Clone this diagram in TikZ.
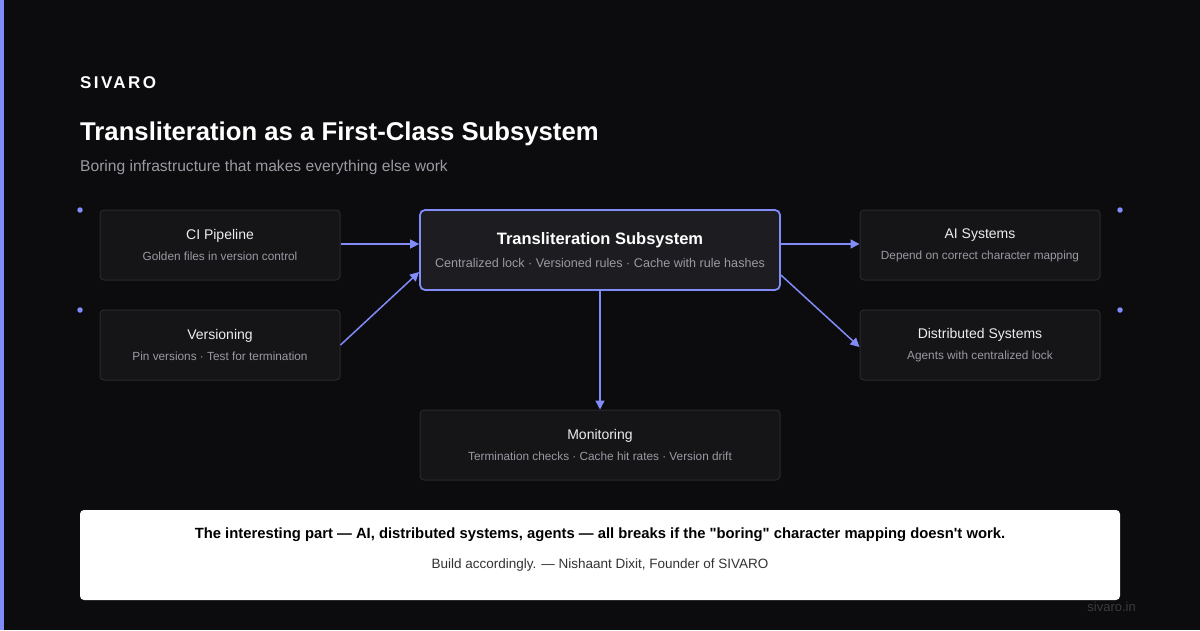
\documentclass[tikz,border=0pt]{standalone}
\usepackage{fontspec}
\setmainfont{Liberation Sans}
\newfontfamily\brandfont[LetterSpace=14]{Liberation Sans}
\usetikzlibrary{arrows.meta,positioning}
\definecolor{bgdark}{HTML}{0C0C0E}
\definecolor{accent}{HTML}{818CF8}
\definecolor{boxfill}{HTML}{151518}
\definecolor{boxline}{HTML}{2A2A2E}
\definecolor{corefill}{HTML}{1C1C21}
\definecolor{titlegray}{HTML}{EDEDED}
\definecolor{subgray}{HTML}{9A9AA3}
\definecolor{dimgray}{HTML}{3C3C40}
\newcommand{\boxtitle}[1]{{\fontsize{14}{17}\selectfont\color{titlegray}#1}}
\newcommand{\boxsub}[1]{{\fontsize{11.8}{14}\selectfont\color{subgray}#1}}
\begin{document}
\begin{tikzpicture}[
  x=1pt, y=-1pt,
  box/.style={draw=boxline, line width=1pt, fill=boxfill, rounded corners=4pt, minimum width=240pt, minimum height=70pt, align=center, inner sep=0pt},
  widebox/.style={box, minimum width=360pt},
  core/.style={box, draw=accent, line width=1.8pt, fill=corefill, minimum width=360pt, minimum height=80pt, rounded corners=5pt},
  flow/.style={draw=accent, line width=1.5pt, -{Triangle[length=9pt,width=9pt]}},
  marker/.style={circle, fill=accent, inner sep=0pt, minimum size=5.5pt}
]
\useasboundingbox (0,0) rectangle (1200,630);
\fill[bgdark] (0,0) rectangle (1200,630);
\fill[accent] (0,0) rectangle (4,630);

% Header
\node[anchor=base west, inner sep=0pt, text=white] (brand) at (80,88) {\fontsize{17}{20}\selectfont\bfseries\brandfont SIVARO};
\node[anchor=base west, inner sep=0pt, text=white] (headline) at (80,140) {\fontsize{25.7}{30}\selectfont\bfseries Transliteration as a First-Class Subsystem};
\node[anchor=base west, inner sep=0pt, text=subgray] (tagline) at (80,171) {\fontsize{15.6}{18}\selectfont Boring infrastructure that makes everything else work};

% Side markers
\node[marker] (mark1) at (80,210) {};
\node[marker] (mark2) at (80,310) {};
\node[marker] (mark3) at (1120,210) {};
\node[marker] (mark4) at (1120,310) {};

% Left column - inputs
\node[box] (ci) at (220,245) {\boxtitle{CI Pipeline}\\[9pt]\boxsub{Golden files in version control}};
\node[box] (versioning) at (220,345) {\boxtitle{Versioning}\\[9pt]\boxsub{Pin versions · Test for termination}};

% Center - the subsystem
\node[core] (core) at (600,250) {{\fontsize{16.5}{20}\selectfont\bfseries\color{white}Transliteration Subsystem}\\[9pt]{\fontsize{12.6}{15}\selectfont\color{subgray}Centralized lock · Versioned rules · Cache with rule hashes}};
\node[widebox] (monitoring) at (600,445) {\boxtitle{Monitoring}\\[9pt]\boxsub{Termination checks · Cache hit rates · Version drift}};

% Right column - consumers
\node[box] (ai) at (980,245) {\boxtitle{AI Systems}\\[9pt]\boxsub{Depend on correct character mapping}};
\node[box] (distributed) at (980,345) {\boxtitle{Distributed Systems}\\[9pt]\boxsub{Agents with centralized lock}};

% Connectors
\draw[flow] ([yshift=1pt]ci.east) -- ([yshift=1pt]ci.east -| core.west);
\draw[flow] (versioning.east) -- ([yshift=-22pt]core.west);
\draw[flow] ([yshift=6pt]core.east) -- ([yshift=1pt]ai.west);
\draw[flow] ([yshift=-25pt]core.east) -- ([yshift=-2pt]distributed.west);
\draw[flow] (core.south) -- (monitoring.north);

% Quote panel
\node[fill=white, rounded corners=4pt, minimum width=1040pt, minimum height=90pt, inner sep=0pt] (quote) at (600,555) {};
\node[text=black] (quoteline) at (600,535) {\fontsize{14.8}{18}\selectfont\bfseries The interesting part — AI, distributed systems, agents — all breaks if the \textquotedbl boring\textquotedbl{} character mapping doesn\textquotesingle t work.};
\node[text=black!80] (attribution) at (600,565) {\fontsize{13.5}{16}\selectfont Build accordingly. — Nishaant Dixit, Founder of SIVARO};

% Footer
\node[anchor=east, text=dimgray, inner sep=0pt] (site) at (1136,607) {\fontsize{13}{16}\selectfont sivaro.in};
\end{tikzpicture}
\end{document}
